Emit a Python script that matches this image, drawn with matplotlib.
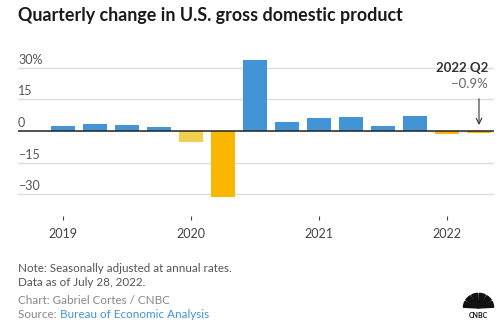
import numpy as np
import matplotlib.pyplot as plt
from matplotlib.patches import Wedge

quarters = ["2019 Q1", "2019 Q2", "2019 Q3", "2019 Q4",
            "2020 Q1", "2020 Q2", "2020 Q3", "2020 Q4",
            "2021 Q1", "2021 Q2", "2021 Q3", "2021 Q4",
            "2022 Q1", "2022 Q2"]
gdp_change = [2.4, 3.2, 2.8, 1.9, -5.1, -31.2, 33.8, 4.5,
              6.3, 6.7, 2.3, 6.9, -1.6, -0.9]
bar_colors = ["#4394d6"] * 4 + ["#f2cf4e", "#fbb700"] + ["#4394d6"] * 6 + ["#fbb700", "#fbb700"]
year_labels = ["2019", "2020", "2021", "2022"]
year_pos = [0, 4, 8, 12]
y_grid = [30, 15, 0, -15, -30]
y_labels = ["30%", "15", "0", "\u221215", "\u221230"]

plt.rcParams["font.family"] = ["Lato", "DejaVu Sans"]

W, H = 500, 329
fig = plt.figure(figsize=(5, 3.29), dpi=100)

# axes placed in pixel coordinates
left_px, right_px, top_px, bot_px = 18, 494, 55, 220
ax = fig.add_axes([left_px / W, 1 - bot_px / H, (right_px - left_px) / W, (bot_px - top_px) / H])
px_per_q = 32.0
px_per_pct = 2.11
ax.set_xlim((left_px - 63) / px_per_q, (right_px - 63) / px_per_q)
ax.set_ylim(-(bot_px - 131) / px_per_pct, (131 - top_px) / px_per_pct)

x = np.arange(len(gdp_change))
for g in y_grid:
    if g == 0:
        continue
    ax.axhline(g, color="#dddddd", lw=1.0, zorder=0)
ax.bar(x, gdp_change, width=0.75, color=bar_colors, zorder=2)
ax.axhline(0, color="#222222", lw=1.1, zorder=3)

for g, lab in zip(y_grid, y_labels):
    ax.text(ax.get_xlim()[0], g + 1.0, lab, ha="left", va="bottom",
            fontsize=9, color="#555555")

for s in ax.spines.values():
    s.set_visible(False)
ax.set_yticks([])
ax.set_xticks(year_pos)
ax.set_xticklabels(year_labels, fontsize=9, color="#444444")
ax.tick_params(axis="x", direction="in", length=3, width=0.8, color="#444444", pad=6)

# annotation for latest quarter
ax.text(13.28, (131 - 68) / px_per_pct, "2022 Q2", ha="right", va="center",
        fontsize=9.5, fontweight="bold", color="#333333")
ax.text(13.28, (131 - 84) / px_per_pct, "\u22120.9%", ha="right", va="center",
        fontsize=9.5, color="#666666")
ax.annotate("", xy=(13, 1.5), xytext=(13, (131 - 96) / px_per_pct),
            arrowprops=dict(arrowstyle="->", color="#333333", lw=0.8))

# title
fig.text(18 / W, 1 - 15 / H, "Quarterly change in U.S. gross domestic product",
         ha="left", va="center", fontsize=12.9, fontweight="bold", color="#1a1a1a")

# footer
fs = 8.4
fig.text(18 / W, 1 - 268 / H, "Note: Seasonally adjusted at annual rates.",
         ha="left", va="center", fontsize=fs, color="#555555")
fig.text(18 / W, 1 - 283 / H, "Data as of July 28, 2022.",
         ha="left", va="center", fontsize=fs, color="#555555")
fig.text(18 / W, 1 - 300 / H, "Chart: Gabriel Cortes / CNBC",
         ha="left", va="center", fontsize=fs, color="#888888")
src = fig.text(18 / W, 1 - 315 / H, "Source: ",
               ha="left", va="center", fontsize=fs, color="#888888")
fig.canvas.draw()
bb = src.get_window_extent()
fig.text(bb.x1 / W, 1 - 315 / H, "Bureau of Economic Analysis",
         ha="left", va="center", fontsize=fs, color="#4394d6")

# simple CNBC peacock mark
lax = fig.add_axes([462 / W, 1 - 320 / H, 33 / W, 28 / H])
lax.set_xlim(-1.2, 1.2)
lax.set_ylim(-0.9, 1.2)
lax.axis("off")
for k in range(6):
    a0 = 180 - k * 30
    lax.add_patch(Wedge((0, 0), 1.1, a0 - 27, a0 - 3, color="#111111"))
lax.text(0, -0.55, "CNBC", ha="center", va="center", fontsize=5, fontweight="bold", color="#111111")

fig.savefig("out.png", dpi=100)
